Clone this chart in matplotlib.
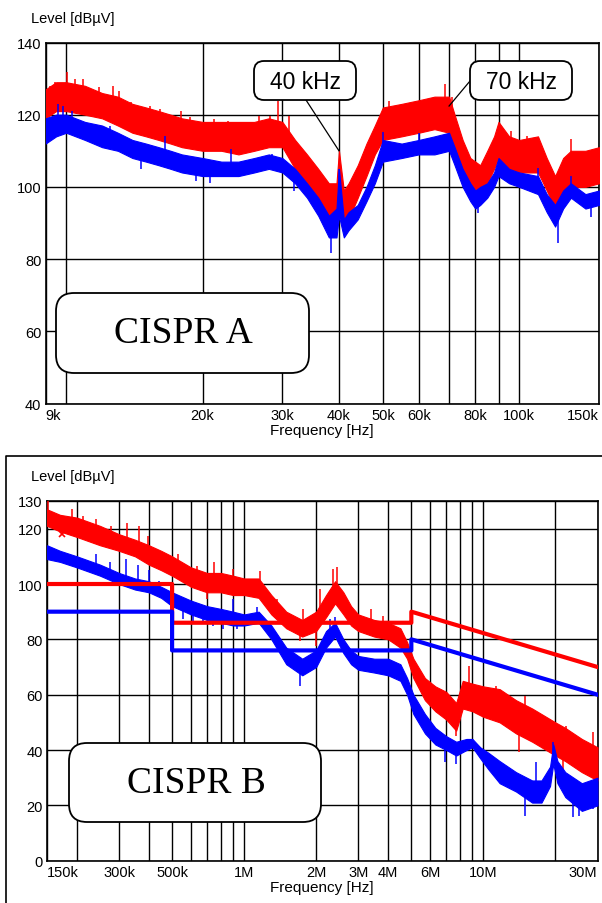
import matplotlib
matplotlib.use("Agg")
import matplotlib.pyplot as plt
import matplotlib.transforms as mtransforms
from matplotlib.patches import FancyBboxPatch
from matplotlib.lines import Line2D
import numpy as np

# ---------------- DATA : CISPR A (top) ----------------
# frequency in kHz, lower / upper envelope of the noisy trace in dBuV
a_freq = [9.0, 9.5, 10, 11, 12, 13, 14, 15, 16, 17, 18, 20, 22, 24, 26, 28, 30, 32, 34, 36, 38,
          39.5, 40, 41, 42, 44, 46, 48, 50, 55, 60, 65, 70, 72, 75, 78, 80, 82, 85, 88, 90, 95,
          100, 110, 115, 120, 125, 130, 140, 150]
a_red_lo = [119, 121, 121, 120, 119, 117, 115, 114, 113, 112, 111, 110, 110, 109, 110, 111, 111, 105, 101, 97, 92,
            91, 96, 89, 91, 97, 103, 109, 113, 114, 115, 116, 115, 111, 103, 99, 97, 98, 101, 105, 108, 105,
            104, 104, 99, 94, 99, 100, 100, 101]
a_red_hi = [127, 129, 129, 128, 126, 125, 123, 122, 121, 120, 119, 118, 118, 118, 118, 119, 118, 113, 109, 105, 101,
            101, 110, 99, 101, 106, 112, 117, 122, 123, 124, 125, 125, 120, 113, 108, 107, 106, 110, 114, 118, 114,
            113, 114, 108, 103, 108, 110, 110, 111]
a_blue_lo = [112, 114, 115, 113, 111, 110, 108, 107, 106, 105, 104, 103, 103, 103, 104, 105, 104, 101, 97, 92, 86,
             86, 92, 86, 88, 91, 96, 101, 107, 108, 109, 109, 110, 106, 100, 96, 94, 95, 97, 100, 103, 101,
             100, 98, 93, 89, 94, 97, 94, 95]
a_blue_hi = [119, 120, 120, 118, 117, 115, 113, 112, 111, 110, 109, 108, 107, 107, 108, 109, 108, 105, 101, 97, 92,
             94, 105, 91, 93, 95, 100, 106, 113, 112, 113, 114, 115, 111, 105, 101, 99, 100, 101, 104, 108, 105,
             104, 103, 98, 95, 99, 101, 98, 99]
# isolated spikes (kHz, dBuV)
a_red_spk_f = [9.2, 9.46, 10.04, 10.47, 10.9, 11.8, 12.7, 13.1, 13.9, 15.3, 16.1, 17.9, 18.8, 21.2, 22.7,
               26.6, 28.2, 29.3, 31, 41.5, 51.6, 55.8, 59.8, 64, 68.4, 71, 81.7, 90.4, 96.1, 104, 109.9,
               120, 130.2, 141, 146]
a_red_spk_v = [128, 129, 131.8, 130, 130, 127.6, 128, 126.7, 123.5, 122.5, 121.6, 121.1, 119.3, 118.8, 118.3,
               119.7, 119.7, 123.9, 119.7, 89, 123.9, 122.5, 123.5, 123, 128.6, 125, 100.2, 117.4, 115.5, 114, 113.2,
               93.7, 113.2, 100.2, 109.5]
a_blue_spk_f = [9.06, 9.6, 9.83, 10.3, 12.5, 14.6, 16.5, 19.3, 20.8, 23.1, 28.5, 31.8, 38.4, 40, 50,
                60, 68.8, 80.9, 90.4, 109.9, 121.8, 130, 144]
a_blue_spk_v = [113.2, 123, 122.5, 121, 117, 104.9, 114, 101.6, 101.1, 110.4, 109, 98.8, 81.6, 105, 115.1,
                115, 114.6, 92.8, 107.2, 105.3, 84.4, 103, 91.8]
a_ticks = [9, 10, 20, 30, 40, 50, 60, 70, 80, 90, 100, 150]
a_labels = ["9k", "", "20k", "30k", "40k", "50k", "60k", "", "80k", "", "100k", "150k"]
a_yticks = [40, 60, 80, 100, 120, 140]
a_marks_f = [40, 70]          # annotated frequencies (kHz)
a_marks_v = [110, 122.4]
a_marks_txt = ["40 kHz", "70 kHz"]

# ---------------- DATA : CISPR B (bottom) ----------------
b_freq = [0.15, 0.17, 0.20, 0.25, 0.30, 0.35, 0.40, 0.45, 0.50, 0.60, 0.70, 0.80, 0.90, 1.0, 1.15, 1.3,
          1.5, 1.75, 2.0, 2.2, 2.4, 2.6, 2.8, 3.0, 3.5, 4.0, 4.5, 4.8, 5.1, 5.7, 6.3, 7.0, 7.7, 8.2,
          9.0, 10, 11.7, 13.7, 16, 20, 22, 25.8, 30]
b_red_lo = [121, 119, 117, 114, 112, 110, 107, 105, 103, 99, 97, 97, 96, 96, 95, 89,
            84, 81, 83, 88, 93, 89, 85, 83, 81, 80, 77, 73, 66, 58, 54, 51, 47, 55,
            54, 52, 50, 46, 43, 38, 36, 32, 29]
b_red_hi = [127, 125, 124, 121, 118, 116, 114, 112, 110, 106, 104, 104, 103, 102, 102, 96,
            90, 87, 90, 96, 101, 97, 92, 89, 87, 86, 84, 79, 73, 66, 63, 61, 57, 65,
            64, 63, 62, 58, 55, 50, 48, 44, 41]
b_freq2 = [0.15, 0.17, 0.20, 0.25, 0.30, 0.35, 0.40, 0.45, 0.50, 0.60, 0.70, 0.80, 0.90, 1.0, 1.15, 1.3,
           1.5, 1.75, 2.0, 2.2, 2.4, 2.6, 2.8, 3.0, 3.5, 4.0, 4.5, 4.8, 5.1, 5.7, 6.3, 7.0, 7.7, 8.5,
           9.0, 9.7, 10.5, 11.7, 13.7, 16, 17.5, 19, 19.6, 20.4, 22, 25.8, 30]
b_blue_lo = [109, 108, 106, 103, 100, 98, 97, 95, 92, 89, 87, 86, 85, 85, 86, 80,
             71, 67, 70, 77, 81, 75, 71, 69, 68, 67, 65, 60, 53, 46, 42, 40, 38, 40,
             41, 37, 33, 28, 25, 21, 21, 27, 35, 28, 23, 18, 20]
b_blue_hi = [114, 112, 110, 107, 104, 102, 101, 99, 97, 94, 92, 91, 90, 89, 90, 85,
             77, 73, 76, 83, 86, 80, 76, 74, 73, 73, 71, 66, 60, 53, 48, 45, 43, 44,
             44, 41, 39, 36, 32, 29, 29, 34, 42, 36, 32, 28, 30]
b_red_spk_f = [0.152, 0.19, 0.212, 0.241, 0.279, 0.324, 0.363, 0.398, 0.529, 0.633, 0.698, 0.75, 0.899,
               1.02, 1.16, 1.37, 1.71, 1.77, 1.99, 2.08, 2.35, 2.45, 3.4, 3.82, 7.7, 8.67, 11.3, 14.1,
               14.9, 18, 21.6, 22.1, 28.8, 29.5]
b_red_spk_v = [132, 127, 124.6, 123.4, 121, 122.2, 121, 117.4, 110.8, 106.6, 94.6, 108, 105.4,
               95.8, 104.8, 94.6, 79.5, 90.9, 77.6, 98.2, 105.4, 106, 91, 88.5, 45.2, 70.5, 63.2, 39.2,
               59.6, 50, 31.9, 48.8, 46.4, 28.3]
b_blue_spk_f = [0.2, 0.24, 0.276, 0.322, 0.36, 0.40, 0.44, 0.557, 0.61, 0.67, 0.74, 0.816, 0.9, 0.93,
                1.13, 1.71, 2.28, 2.4, 6.9, 7.7, 8.67, 10.2, 14.9, 16.6, 19.5, 23.8, 25, 28.8]
b_blue_spk_v = [110.2, 111, 108, 109, 107, 105, 101, 87.3, 86.1, 86.1, 84.9, 83.7, 94.6, 83.7,
                91.6, 63.2, 87.3, 88, 35.5, 34.9, 44, 39, 16.3, 35.5, 43, 15.7, 16, 18.7]
b_lim_f = [0.15, 0.5, 0.5, 5, 5, 30]
b_lim_red = [100, 100, 86, 86, 90, 70]
b_lim_blue = [90, 90, 76, 76, 80, 60]
b_marker_f = [0.173]
b_marker_v = [118]
b_ticks = [0.15, 0.2, 0.3, 0.4, 0.5, 0.6, 0.7, 0.8, 0.9, 1, 2, 3, 4, 5, 6, 7, 8, 9, 10, 20, 30]
b_labels = ["150k", "", "300k", "", "500k", "", "", "", "", "1M", "2M", "3M", "4M", "", "6M", "", "", "",
            "10M", "", "30M"]
b_yticks = [0, 20, 40, 60, 80, 100, 120, 130]

RED = "#ff0000"
BLUE = "#0000ff"
SANS = ["Liberation Sans", "DejaVu Sans"]
SERIF = ["Liberation Serif", "DejaVu Serif"]

W, H, DPI = 602, 904, 100
fig = plt.figure(figsize=(W / DPI, H / DPI), dpi=DPI)
# pixel coordinates (origin top-left)
PX = mtransforms.Affine2D().scale(1 / DPI, -1 / DPI).translate(0, H / DPI) + fig.dpi_scale_trans


def axes_px(l, t, r, b):
    return fig.add_axes([l / W, 1 - b / H, (r - l) / W, (b - t) / H])


def noisy(ax, f, lo, hi, sf, sv, color):
    ax.fill_between(f, lo, hi, color=color, lw=0.8, edgecolor=color, zorder=3)
    mid = [(a + b) / 2 for a, b in zip(lo, hi)]
    base = np.interp(np.log10(sf), np.log10(f), mid)
    ax.vlines(sf, base, sv, color=color, lw=1.1, zorder=3)


def style(ax, xticks, xlabels, yticks, xlim, ylim):
    ax.set_xscale("log")
    ax.set_xlim(*xlim)
    ax.set_ylim(*ylim)
    ax.set_xticks(xticks)
    ax.set_xticklabels(xlabels)
    ax.xaxis.set_minor_locator(matplotlib.ticker.NullLocator())
    ax.set_yticks(yticks)
    ax.set_yticklabels([str(v) for v in yticks])
    ax.tick_params(length=0, labelsize=10.5, pad=3)
    for lab in ax.get_xticklabels() + ax.get_yticklabels():
        lab.set_family(SANS)
    ax.get_xticklabels()[0].set_ha("left")
    ax.get_xticklabels()[-1].set_ha("right")
    ax.grid(True, color="black", lw=1.0, zorder=1)
    for s in ax.spines.values():
        s.set_linewidth(1.2)
    ax.set_axisbelow(True)
    ax.set_xlabel("Frequency [Hz]", fontsize=11, family=SANS, labelpad=1)


def rbox(x0, y0, x1, y1, pad_r):
    p = FancyBboxPatch((x0, y0), x1 - x0, y1 - y0,
                       boxstyle=f"round,pad=0,rounding_size={pad_r}",
                       transform=PX, facecolor="white", edgecolor="black", lw=1.3, zorder=10)
    fig.add_artist(p)


# ---- top panel ----
ax1 = axes_px(45.5, 43.5, 599, 404.5)
noisy(ax1, a_freq, a_red_lo, a_red_hi, a_red_spk_f, a_red_spk_v, RED)
noisy(ax1, a_freq, a_blue_lo, a_blue_hi, a_blue_spk_f, a_blue_spk_v, BLUE)
style(ax1, a_ticks, a_labels, a_yticks, (9, 150), (40, 140))
fig.text(31, 19, "Level [dBµV]", transform=PX, fontsize=10.5, family=SANS, va="center", ha="left")

# annotation boxes (40 kHz, 70 kHz)
box_px = [(254, 62, 356, 101), (470, 62, 572, 101)]
anchor_px = [(306, 101), (470, 82)]
for (x0, y0, x1, y1), (axp, ayp), f, v, t in zip(box_px, anchor_px, a_marks_f, a_marks_v, a_marks_txt):
    tx, ty = ax1.transData.transform((f, v))
    px_x, px_y = tx, H - ty
    fig.add_artist(Line2D([axp, px_x], [ayp, px_y], transform=PX, color="black", lw=0.9, zorder=9))
    rbox(x0, y0, x1, y1, 10)
    fig.text((x0 + x1) / 2, (y0 + y1) / 2 + 1, t, transform=PX, fontsize=16.5, family=SANS,
             ha="center", va="center", zorder=11)

rbox(56, 294, 309, 374, 18)
fig.text(183, 334, "CISPR A", transform=PX, fontsize=27, family=SERIF, ha="center", va="center", zorder=11)

# ---- bottom panel ----
ax2 = axes_px(47, 502, 597.5, 861.7)
noisy(ax2, b_freq, b_red_lo, b_red_hi, b_red_spk_f, b_red_spk_v, RED)
noisy(ax2, b_freq2, b_blue_lo, b_blue_hi, b_blue_spk_f, b_blue_spk_v, BLUE)
ax2.plot(b_lim_f, b_lim_red, color=RED, lw=3.0, zorder=5)
ax2.plot(b_lim_f, b_lim_blue, color=BLUE, lw=3.0, zorder=5)
ax2.plot(b_marker_f, b_marker_v, ls="none", marker="x", color=RED, ms=5, mew=1.2, zorder=6)
style(ax2, b_ticks, b_labels, b_yticks, (0.15, 30), (0, 130))
fig.text(31, 477, "Level [dBµV]", transform=PX, fontsize=10.5, family=SANS, va="center", ha="left")

rbox(69, 744, 321, 823, 18)
fig.text(196, 784, "CISPR B", transform=PX, fontsize=27, family=SERIF, ha="center", va="center", zorder=11)

# frame around lower panel
fig.add_artist(Line2D([5.5, 5.5, 610], [910, 457, 457], transform=PX, color="black", lw=1.2))

fig.savefig("out.png", dpi=DPI)
